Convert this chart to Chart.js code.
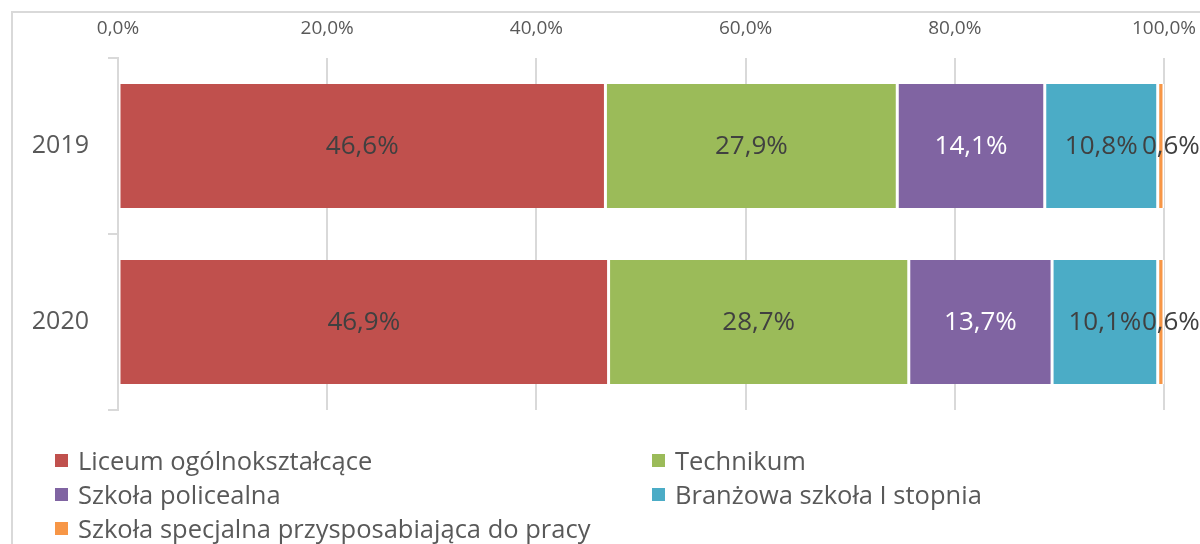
<!DOCTYPE html>
<html>
<head>
<meta charset="utf-8">
<script src="https://cdn.jsdelivr.net/npm/chart.js@4/dist/chart.umd.min.js"></script>
<style>
  html, body { margin: 0; padding: 0; background: #fff; }
  body { width: 1200px; height: 544px; position: relative; overflow: hidden; font-family: "Open Sans", sans-serif; }
  #frame { position: absolute; left: 11px; top: 11px; width: 1400px; height: 800px; border: 2px solid #d9d9d9; }
  #chart { position: absolute; left: 0; top: 0; }
  #legend { position: absolute; left: 55px; top: 443px; display: grid; grid-template-columns: 597px 500px; }
  .item { display: flex; align-items: center; height: 34px; font-size: 25.5px; color: #595959; white-space: nowrap; }
  .box { width: 13px; height: 13px; margin-right: 10px; }
</style>
</head>
<body>
<div id="frame"></div>
<canvas id="chart" width="1200" height="544"></canvas>
<div id="legend"></div>
<script>
const years = ['2019', '2020'];
const schoolTypes = [
  'Liceum ogólnokształcące',
  'Technikum',
  'Szkoła policealna',
  'Branżowa szkoła I stopnia',
  'Szkoła specjalna przysposabiająca do pracy'
];
const liceum = [46.6, 46.9];
const technikum = [27.9, 28.7];
const policealna = [14.1, 13.7];
const branzowa = [10.8, 10.1];
const specjalna = [0.6, 0.6];
const xTicks = [0, 20, 40, 60, 80, 100];

const colors = ['#C0504D', '#9BBB59', '#8064A2', '#4BACC6', '#F79646'];
const labelColors = ['#404040', '#404040', '#ffffff', '#404040', '#404040'];
const series = [liceum, technikum, policealna, branzowa, specjalna];

const fmt = v => v.toFixed(1).replace('.', ',') + '%';

// value labels in the middle of each segment
const barLabels = {
  id: 'barLabels',
  afterDatasetsDraw(chart) {
    const c = chart.ctx;
    c.save();
    c.font = '26px "Open Sans"';
    c.textAlign = 'center';
    c.textBaseline = 'middle';
    chart.data.datasets.forEach((ds, i) => {
      chart.getDatasetMeta(i).data.forEach((bar, j) => {
        const x = (bar.x + bar.base) / 2;
        c.fillStyle = labelColors[i];
        c.fillText(fmt(ds.data[j]), i === 4 ? x + 10 : x, bar.y + 1);
      });
    });
    c.restore();
  }
};

const ctx = document.getElementById('chart').getContext('2d');
const chart = new Chart(ctx, {
  type: 'bar',
  data: {
    labels: years,
    datasets: schoolTypes.map((name, i) => ({
      label: name,
      data: series[i],
      backgroundColor: colors[i],
      borderColor: '#ffffff',
      borderWidth: { left: 1.5, right: 1.5, top: 0, bottom: 0 },
      borderSkipped: false,
      categoryPercentage: 0.705,
      barPercentage: 1
    }))
  },
  options: {
    indexAxis: 'y',
    responsive: false,
    animation: false,
    devicePixelRatio: 1,
    layout: { padding: { left: 0, top: 0, right: 36, bottom: 134 } },
    plugins: { legend: { display: false }, tooltip: { enabled: false } },
    scales: {
      x: {
        position: 'top',
        stacked: true,
        min: 0,
        max: 100,
        afterBuildTicks: s => { s.ticks = xTicks.map(v => ({ value: v })); },
        afterFit: s => { s.height = 58; s.paddingLeft = 0; s.paddingRight = 0; },
        grid: { color: '#d9d9d9', lineWidth: 2, drawTicks: false },
        border: { display: false },
        ticks: { color: '#595959', font: { family: 'Open Sans', size: 19 }, padding: 18, callback: v => fmt(v) }
      },
      y: {
        stacked: true,
        afterFit: s => { s.width = 118; },
        grid: { drawOnChartArea: false, drawTicks: true, tickLength: 10, color: '#d9d9d9', lineWidth: 2 },
        border: { display: true, color: '#d9d9d9', width: 2 },
        ticks: { color: '#595959', font: { family: 'Open Sans', size: 25 }, padding: 19 }
      }
    }
  },
  plugins: [barLabels]
});

// legend built from the datasets
const legend = document.getElementById('legend');
chart.data.datasets.forEach(ds => {
  const item = document.createElement('div');
  item.className = 'item';
  item.innerHTML = `<span class="box" style="background:${ds.backgroundColor}"></span>${ds.label}`;
  legend.appendChild(item);
});
</script>
</body>
</html>
